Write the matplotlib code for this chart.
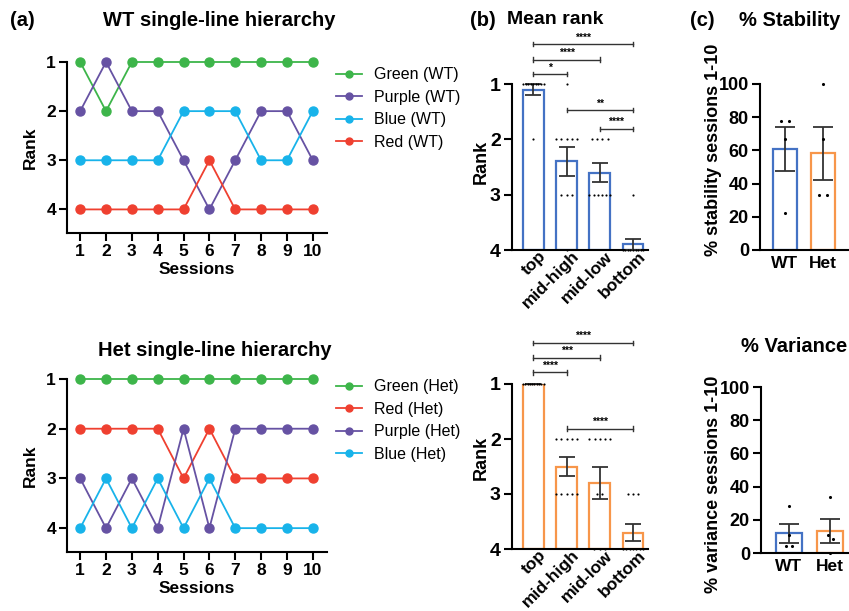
import numpy as np
import matplotlib
matplotlib.use("Agg")
import matplotlib.pyplot as plt
from matplotlib.lines import Line2D

plt.rcParams['font.family'] = ['Liberation Sans', 'DejaVu Sans']
plt.rcParams['font.weight'] = 'bold'

# ---------------- data ----------------
sessions = [1, 2, 3, 4, 5, 6, 7, 8, 9, 10]

wt_names = ["Green (WT)", "Purple (WT)", "Blue (WT)", "Red (WT)"]
wt_green = [1, 2, 1, 1, 1, 1, 1, 1, 1, 1]
wt_purple = [2, 1, 2, 2, 3, 4, 3, 2, 2, 3]
wt_blue = [3, 3, 3, 3, 2, 2, 2, 3, 3, 2]
wt_red = [4, 4, 4, 4, 4, 3, 4, 4, 4, 4]

het_names = ["Green (Het)", "Red (Het)", "Purple (Het)", "Blue (Het)"]
het_green = [1, 1, 1, 1, 1, 1, 1, 1, 1, 1]
het_red = [2, 2, 2, 2, 3, 2, 3, 3, 3, 3]
het_purple = [3, 4, 3, 4, 2, 4, 2, 2, 2, 2]
het_blue = [4, 3, 4, 3, 4, 3, 4, 4, 4, 4]

rank_categories = ["top", "mid-high", "mid-low", "bottom"]

stab_groups = ["WT", "Het"]
wt_stability = [77.8, 77.8, 66.7, 22.2]
het_stability = [100.0, 66.7, 33.3, 33.3]
wt_variance = [28.3, 10.7, 4.0, 4.0]
het_variance = [33.7, 11.0, 8.7, 0.0]

# significance: (i, j, label, y in rank units)
wt_sig = [(0, 3, "****", 0.28), (0, 2, "****", 0.56), (0, 1, "*", 0.82),
          (1, 3, "**", 1.47), (2, 3, "****", 1.81)]
het_sig = [(0, 3, "****", 0.25), (0, 2, "***", 0.52), (0, 1, "****", 0.79),
           (1, 3, "****", 1.81)]

# ---------------- style ----------------
C_GREEN = "#3db54a"
C_PURPLE = "#6652a3"
C_BLUE = "#18b3ea"
C_RED = "#ef4030"
C_WT = "#4472c4"
C_HET = "#f7964a"
ERR = "#333333"

W, H = 849, 611
fig = plt.figure(figsize=(W / 100, H / 100), dpi=100)


def ax_px(l, t, r, b):
    return fig.add_axes([l / W, 1 - b / H, (r - l) / W, (b - t) / H])


def ftext(x, y, s, **kw):
    fig.text(x / W, 1 - y / H, s, **kw)


def style_axes(ax, lw=1.5):
    for s in ["top", "right"]:
        ax.spines[s].set_visible(False)
    for s in ["left", "bottom"]:
        ax.spines[s].set_linewidth(lw)
        ax.spines[s].set_color("black")


def line_panel(ax, series, colors, names, legend_y0):
    style_axes(ax)
    for vals, c, n in zip(series, colors, names):
        ax.plot(sessions, vals, color=c, lw=1.3, marker="o", ms=6.5,
                clip_on=False, zorder=3, label=n)
    ax.set_ylim(4.48, 1)
    ax.set_xlim(0.49, 10.55)
    ax.set_yticks([1, 2, 3, 4])
    ax.set_xticks(sessions)
    ax.tick_params(axis="both", width=1.5, length=6, labelsize=12.5, pad=2)
    for lab in ax.get_xticklabels() + ax.get_yticklabels():
        lab.set_fontweight("bold")
    ax.set_ylabel("Rank", fontsize=12.5, fontweight="bold", labelpad=6)
    ax.set_xlabel("Sessions", fontsize=12.5, fontweight="bold", labelpad=2)
    handles = [Line2D([0], [0], color=c, lw=1.3, marker="o", ms=5)
               for c in colors]
    fig.legend(handles, names, loc="upper left",
               bbox_to_anchor=(322 / W, 1 - legend_y0 / H),
               frameon=False, handlelength=1.6,
               handletextpad=0.75, labelspacing=0.47,
               prop={"size": 11.5, "weight": "normal"})


def rank_panel(ax, series, edge, sig):
    style_axes(ax)
    x = np.arange(len(series))
    means = np.array([np.mean(s) for s in series])
    sems = np.array([np.std(s, ddof=1) / np.sqrt(len(s)) for s in series])
    ax.bar(x, means - 4, bottom=4, width=0.62, facecolor="white",
           edgecolor=edge, linewidth=1.6, zorder=2)
    ax.errorbar(x, means, yerr=sems, fmt="none", ecolor=ERR, elinewidth=1.3,
                capsize=6, capthick=1.3, zorder=4, clip_on=False)
    # dots
    for i, s in enumerate(series):
        s = np.array(s)
        for r in [1, 2, 3, 4]:
            n = int(np.sum(s == r))
            if n == 0:
                continue
            sp = 0.16 if n == 1 else min(0.16, 0.62 / (n - 1))
            offs = (np.arange(n) - (n - 1) / 2) * sp
            ax.scatter(i + offs, [r] * n, s=2.4, color="black", zorder=5,
                       clip_on=False, linewidths=0)
    # significance brackets
    for i, j, lab, y in sig:
        ax.plot([i, j], [y, y], color=ERR, lw=1.0, clip_on=False)
        for xx in (i, j):
            ax.plot([xx, xx], [y - 0.04, y + 0.04], color=ERR, lw=1.0,
                    clip_on=False)
        ax.text((i + j) / 2, y - 0.03, lab, ha="center", va="bottom",
                fontsize=7.5, fontweight="bold", clip_on=False)
    ax.set_ylim(4, 1)
    ax.set_xlim(-0.64, 3.45)
    ax.set_yticks([1, 2, 3, 4])
    ax.set_xticks(x)
    ax.set_xticklabels([])
    for i, lab in enumerate(rank_categories):
        ax.annotate(lab, xy=(i, 4), xycoords="data", xytext=(3.5, 1.0),
                    textcoords="offset points", rotation=45, ha="right",
                    va="top", rotation_mode="anchor", fontsize=12.5,
                    fontweight="bold", annotation_clip=False)
    ax.tick_params(axis="x", length=0, pad=1)
    ax.tick_params(axis="y", width=1.5, length=6, labelsize=14, pad=2)
    for lab in ax.get_yticklabels():
        lab.set_fontweight("bold")


def pct_panel(ax, groups_vals, xl, bw, spread):
    style_axes(ax)
    edges = [C_WT, C_HET]
    x = np.arange(len(groups_vals))
    means = [np.mean(v) for v in groups_vals]
    sems = [np.std(v, ddof=1) / np.sqrt(len(v)) for v in groups_vals]
    ax.bar(x, means, width=bw, facecolor="white", edgecolor=edges,
           linewidth=1.6, zorder=2)
    ax.errorbar(x, means, yerr=sems, fmt="none", ecolor=ERR, elinewidth=1.3,
                capsize=7, capthick=1.3, zorder=4)
    for i, v in enumerate(groups_vals):
        for val, off in zip(v, spread[i]):
            ax.scatter(i + off, val, s=5, color="black", zorder=5,
                       linewidths=0, clip_on=False)
    ax.set_ylim(0, 100)
    ax.set_xlim(*xl)
    ax.set_yticks([0, 20, 40, 60, 80, 100])
    ax.set_xticks(x)
    ax.set_xticklabels(stab_groups, fontsize=12.5, fontweight="bold")
    ax.tick_params(axis="x", length=0, pad=4)
    ax.tick_params(axis="y", width=1.5, length=6, labelsize=13, pad=2)
    for lab in ax.get_yticklabels():
        lab.set_fontweight("bold")


# ---------------- panel (a) ----------------
ax1 = ax_px(67, 62, 327, 233)
line_panel(ax1, [wt_green, wt_purple, wt_blue, wt_red],
           [C_GREEN, C_PURPLE, C_BLUE, C_RED], wt_names, 53)
ax2 = ax_px(67, 379, 327, 552)
line_panel(ax2, [het_green, het_red, het_purple, het_blue],
           [C_GREEN, C_RED, C_PURPLE, C_BLUE], het_names, 365)

ftext(10, 20, "(a)", fontsize=14.5, fontweight="bold", va="center")
ftext(219, 20, "WT single-line hierarchy", fontsize=14.5, fontweight="bold",
      ha="center", va="center")
ftext(215, 350, "Het single-line hierarchy", fontsize=14.5,
      fontweight="bold", ha="center", va="center")

# ---------------- panel (b) ----------------
ax3 = ax_px(512, 84, 648, 250)
rank_panel(ax3, [wt_green, wt_purple, wt_blue, wt_red], C_WT, wt_sig)
ax4 = ax_px(512, 384, 648, 549)
rank_panel(ax4, [het_green, het_red, het_purple, het_blue], C_HET, het_sig)
ftext(481, 162, "Rank", fontsize=13, fontweight="bold", rotation=90,
      ha="center", va="center")
ftext(481, 458, "Rank", fontsize=13, fontweight="bold", rotation=90,
      ha="center", va="center")
ftext(470, 20, "(b)", fontsize=14.5, fontweight="bold", va="center")
ftext(555, 20, "Mean rank", fontsize=14, fontweight="bold",
      ha="center", va="center")

# ---------------- panel (c) ----------------
ax5 = ax_px(760, 84, 848, 250)
pct_panel(ax5, [wt_stability, het_stability], (-0.645, 1.65), 0.63,
          [[-0.1, 0.1, 0.0, 0.0], [0.0, 0.0, -0.1, 0.1]])
ax6 = ax_px(761, 387, 848, 553)
pct_panel(ax6, [wt_variance, het_variance], (-0.68, 1.44), 0.65,
          [[0.0, 0.0, -0.07, 0.07], [0.0, -0.05, 0.08, 0.0]])
ftext(713, 150, "% stability sessions 1-10", fontsize=13, fontweight="bold",
      rotation=90, ha="center", va="center")
ftext(713, 484, "% variance sessions 1-10", fontsize=13, fontweight="bold",
      rotation=90, ha="center", va="center")
ftext(690, 20, "(c)", fontsize=14.5, fontweight="bold", va="center")
ftext(790, 20, "% Stability", fontsize=14.5, fontweight="bold",
      ha="center", va="center")
ftext(794, 347, "% Variance", fontsize=14.5, fontweight="bold",
      ha="center", va="center")

fig.savefig("out.png", dpi=100)
